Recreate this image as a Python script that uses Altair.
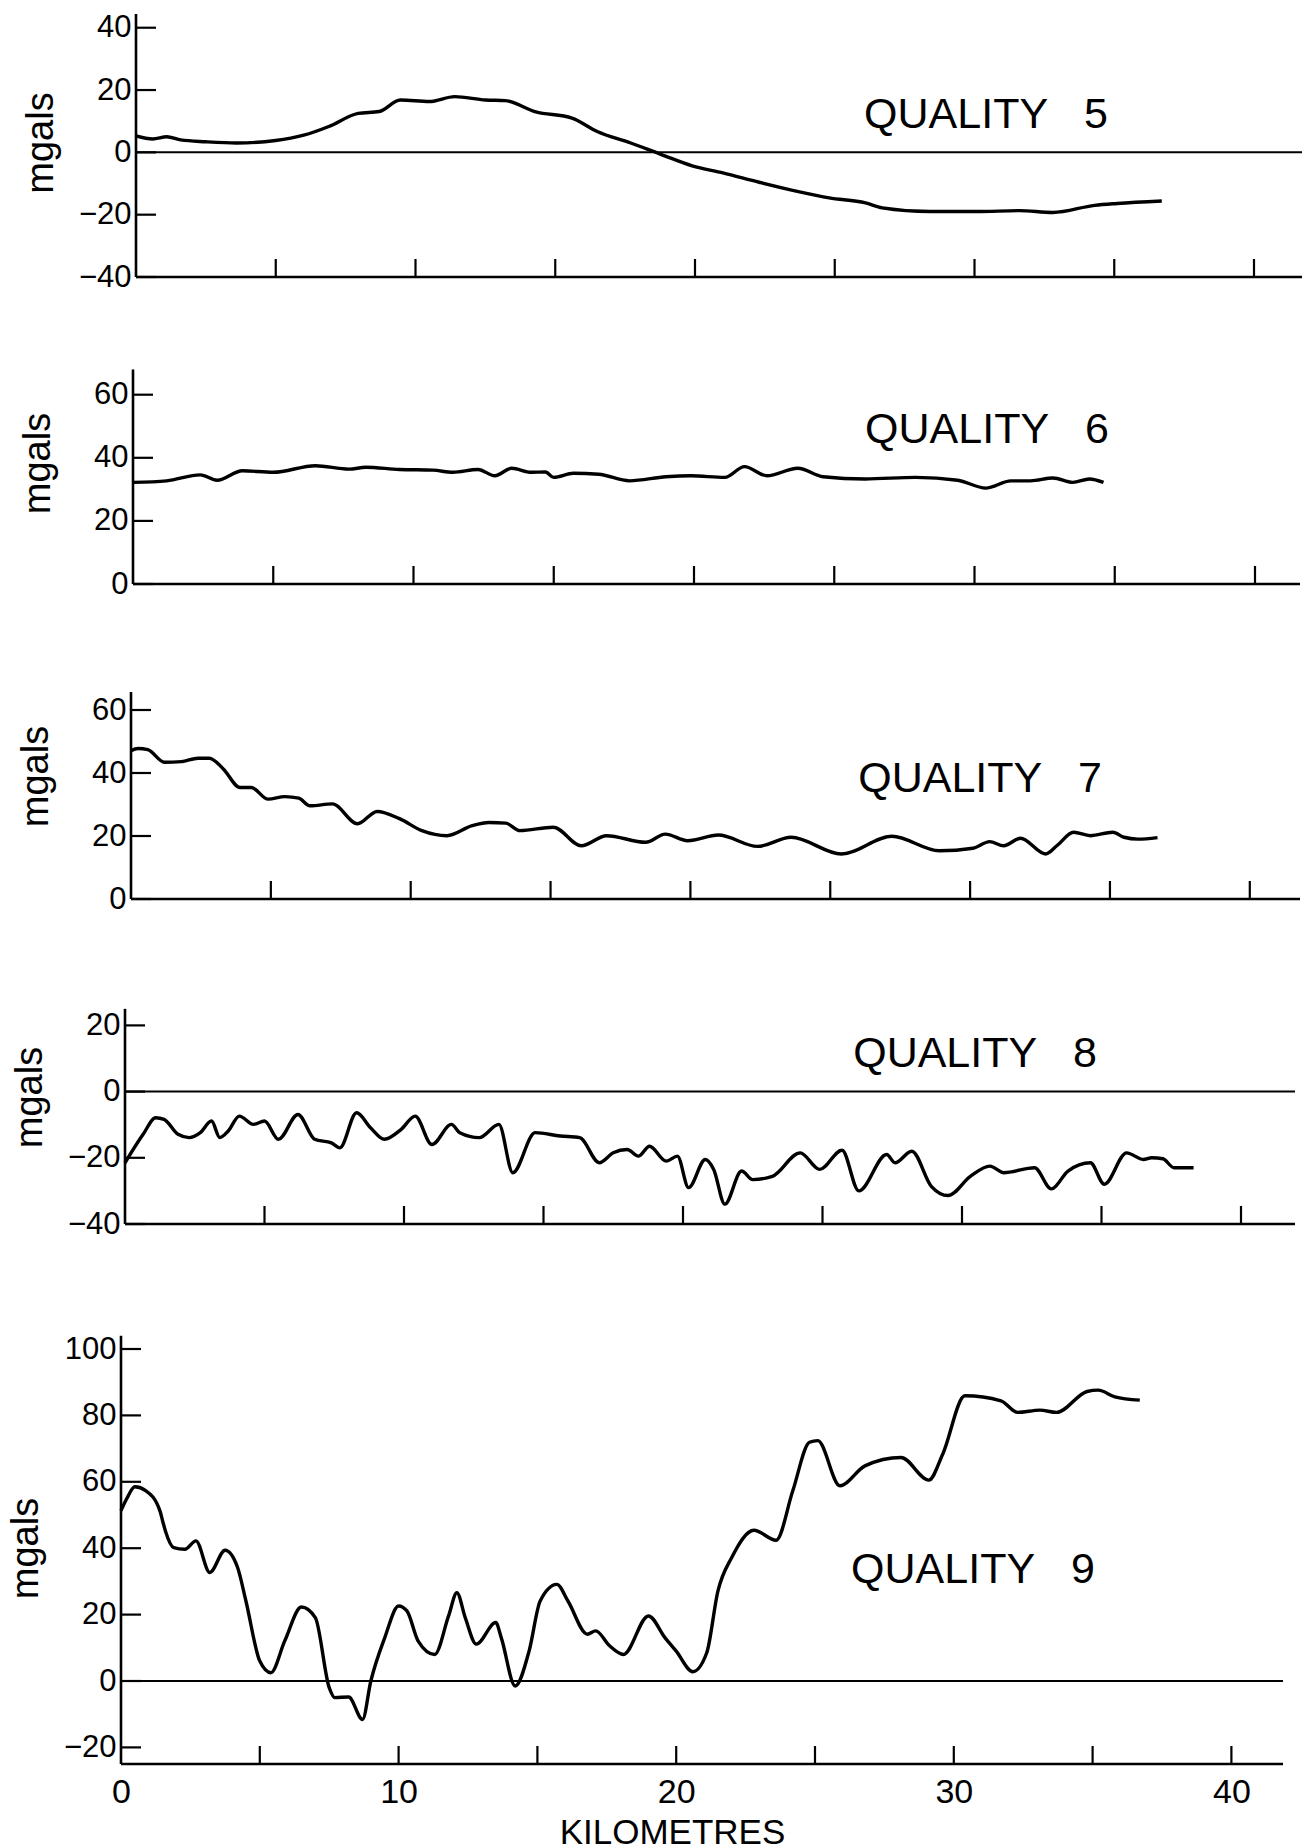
import altair as alt
import pandas as pd

FONT = "Liberation Sans"

# ---------------- data (km along profile, mgals) ----------------
q5_km = [0, 0.6, 1.1, 1.6, 2.5, 3.6, 5.0, 6.0, 6.9, 7.95, 8.7, 9.46, 10.5, 11.4, 12.5,
         13.2, 14.3, 15.6, 16.5, 17.7, 18.8, 19.9, 21.0, 22.3, 23.7, 24.8, 26.1, 26.7,
         28.4, 30.1, 31.6, 32.8, 34.3, 35.1, 36.7]
q5_mgal = [5.3, 4.3, 5.0, 4.0, 3.4, 3.0, 3.8, 5.5, 8.3, 12.5, 13.1, 16.8, 16.3, 17.9, 16.8,
           16.6, 13.0, 11.0, 6.7, 3.0, -0.7, -4.3, -6.6, -9.6, -12.6, -14.6, -16.2, -17.8,
           -19.0, -19.0, -18.7, -19.3, -17.0, -16.4, -15.6]

q6_km = [0, 1.2, 2.4, 3.0, 3.9, 5.0, 6.5, 7.7, 8.3, 9.5, 10.7, 11.4, 12.3, 12.9, 13.5,
         14.2, 14.7, 15.0, 15.7, 16.6, 17.7, 19.0, 19.9, 21.1, 21.8, 22.6, 23.7, 24.6,
         26.1, 27.9, 29.4, 30.4, 31.3, 32.0, 32.8, 33.5, 34.1, 34.6]
q6_mgal = [32.2, 32.7, 34.6, 32.9, 35.9, 35.4, 37.5, 36.4, 37.0, 36.3, 36.1, 35.4, 36.3,
           34.3, 36.7, 35.4, 35.5, 33.8, 35.1, 34.8, 32.7, 34.0, 34.3, 33.8, 37.2, 34.3,
           36.7, 34.0, 33.3, 33.8, 32.9, 30.4, 32.7, 32.7, 33.6, 32.2, 33.3, 32.2]

q7_km = [0, 0.25, 0.6, 1.2, 1.8, 2.4, 2.8, 3.3, 3.9, 4.3, 4.9, 5.5, 6.0, 6.4, 7.2, 8.1,
         8.8, 9.6, 10.4, 11.3, 12.2, 12.8, 13.4, 13.9, 15.1, 16.1, 17.0, 18.4, 19.1,
         19.9, 21.0, 22.4, 23.6, 25.4, 27.2, 28.9, 30.1, 30.7, 31.2, 31.8, 32.7, 33.1,
         33.7, 34.3, 35.1, 35.5, 36.0, 36.7]
q7_mgal = [47.1, 47.8, 47.4, 43.4, 43.6, 44.7, 44.7, 41.3, 35.4, 35.4, 31.7, 32.5, 32.0,
           29.6, 30.2, 23.9, 27.8, 25.5, 21.7, 20.1, 23.3, 24.3, 24.1, 21.7, 22.8, 16.9,
           20.1, 18.0, 20.6, 18.5, 20.3, 16.7, 19.6, 14.3, 19.9, 15.3, 16.1, 18.2, 16.9,
           19.3, 14.3, 16.9, 21.2, 20.1, 21.2, 19.6, 19.0, 19.5]

q8_km = [0, 0.65, 1.1, 1.4, 1.9, 2.3, 2.7, 3.1, 3.4, 3.7, 4.1, 4.6, 5.0, 5.5, 6.2, 6.8,
         7.4, 7.7, 8.3, 8.8, 9.3, 9.9, 10.4, 11.0, 11.7, 12.0, 12.7, 13.4, 13.9, 14.7,
         15.6, 16.3, 17.0, 17.5, 18.0, 18.4, 18.8, 19.4, 19.8, 20.2, 20.8, 21.1, 21.5,
         22.1, 22.5, 23.2, 24.2, 24.9, 25.7, 26.3, 27.3, 27.6, 28.2, 28.9, 29.5, 30.3,
         31.0, 31.5, 32.6, 33.2, 33.8, 34.6, 35.1, 35.9, 36.5, 36.8, 37.2, 37.6, 38.3]
q8_mgal = [-21.5, -12.9, -7.9, -8.4, -12.9, -13.9, -12.4, -8.9, -13.9, -11.9, -7.4, -9.9,
           -8.9, -14.4, -6.9, -14.4, -15.5, -17.0, -6.4, -10.9, -14.4, -11.4, -7.4, -16.0,
           -9.9, -12.4, -13.9, -9.9, -24.5, -12.4, -13.4, -13.9, -21.5, -18.5, -17.5,
           -19.5, -16.5, -21.0, -19.5, -29.0, -20.5, -23.5, -34.0, -24.0, -26.6, -25.6,
           -18.5, -23.5, -17.7, -30.0, -19.0, -21.5, -18.0, -28.6, -31.4, -25.6, -22.5,
           -24.5, -23.0, -29.4, -24.0, -21.5, -28.0, -18.5, -20.5, -20.0, -20.3, -23.0,
           -23.0]

q9_km = [0, 0.2, 0.5, 0.9, 1.4, 1.5, 1.6, 1.9, 2.3, 2.7, 3.2, 3.75, 4.2, 4.5, 5.0, 5.4,
         5.9, 6.5, 7.0, 7.5, 7.7, 8.2, 8.7, 9.0, 9.5, 10.0, 10.3, 10.7, 11.3, 11.8, 12.1,
         12.4, 12.8, 13.5, 13.7, 14.2, 14.7, 15.1, 15.7, 16.1, 16.8, 17.1, 17.6, 18.1,
         19.0, 19.6, 20.0, 20.6, 21.1, 21.5, 22.0, 22.8, 23.6, 24.2, 24.8, 25.1, 25.9,
         26.8, 28.1, 29.1, 29.6, 30.4, 31.7, 32.3, 33.1, 33.7, 34.8, 35.2, 35.8, 36.7]
q9_mgal = [51.3, 54.8, 58.5, 57.3, 51.3, 48.2, 45.2, 40.2, 39.7, 42.2, 32.7, 39.4, 34.2,
           24.1, 6.0, 2.5, 12.1, 22.3, 19.1, -2.0, -5.0, -4.8, -11.6, 0.0, 13.0, 22.6,
           21.1, 12.1, 8.0, 19.6, 26.6, 19.1, 11.1, 17.6, 13.0, -1.5, 9.0, 24.1, 29.1,
           24.1, 14.1, 15.1, 10.6, 8.0, 19.6, 13.0, 9.0, 2.8, 8.5, 27.0, 37.2, 45.4, 42.4,
           57.3, 71.9, 72.4, 58.8, 64.8, 67.3, 60.5, 68.3, 85.9, 84.4, 80.9, 81.6, 80.9,
           87.2, 87.6, 85.6, 84.6]

quality_numbers = ["5", "6", "7", "8", "9"]
tick_km = [5, 10, 15, 20, 25, 30, 35, 40]
x_label_km = [0, 10, 20, 30, 40]
y_ticks = [[-40, -20, 0, 20, 40], [0, 20, 40, 60], [0, 20, 40, 60],
           [-40, -20, 0, 20], [-20, 0, 20, 40, 60, 80, 100]]
series_km = [q5_km, q6_km, q7_km, q8_km, q9_km]
series_mgal = [q5_mgal, q6_mgal, q7_mgal, q8_mgal, q9_mgal]

# ---------------- layout / styling per panel ----------------
layout = [
    dict(origin=136, kx=27.95, width=1302, height=263, ymin=-40, ky=3.116, axis_top=44.4,
         zero=True, q=(26.05, 7.8), titleY=128.5),
    dict(origin=133, kx=28.05, width=1300, height=202, ymin=0, ky=3.155, axis_top=68,
         zero=False, q=(26.1, 44.8), titleY=81),
    dict(origin=131, kx=27.97, width=1300, height=210, ymin=0, ky=3.15, axis_top=65.7,
         zero=False, q=(26.0, 34.1), titleY=87),
    dict(origin=125, kx=27.9, width=1295, height=220, ymin=-40, ky=3.31, axis_top=25,
         zero=True, q=(26.1, 7.3), titleY=93),
    dict(origin=121, kx=27.76, width=1283, height=435, ymin=-25, ky=3.32, axis_top=104,
         zero=True, q=(26.3, 29.6), titleY=219),
]


def make_panel(i):
    p = layout[i]
    last = i == len(layout) - 1
    xmin = -p["origin"] / p["kx"]
    xmax = (p["width"] - p["origin"]) / p["kx"]
    ymax = p["ymin"] + p["height"] / p["ky"]
    xs = alt.Scale(domain=[xmin, xmax], nice=False, zero=False)
    ys = alt.Scale(domain=[p["ymin"], ymax], nice=False, zero=False)

    yaxis = alt.Axis(values=y_ticks[i], domain=False, ticks=False, grid=False,
                     offset=-p["origin"], labelFontSize=31, labelPadding=5,
                     labelFont=FONT, labelColor="black", title="mgals",
                     titleFontSize=38, titleFont=FONT, titleFontWeight="normal",
                     titleColor="black", titlePadding=12, titleY=p["titleY"],
                     minExtent=64, maxExtent=64)
    if last:
        xaxis = alt.Axis(values=x_label_km, domain=False, ticks=False, grid=False,
                         labelFontSize=34, labelPadding=11, labelFont=FONT,
                         labelColor="black", labelFlush=False, title="KILOMETRES",
                         titleFontSize=35, titleFont=FONT, titleFontWeight="normal",
                         titleColor="black", titlePadding=6, titleX=672)
    else:
        xaxis = None

    def X(field):
        return alt.X(field, scale=xs, axis=xaxis)

    def Y(field):
        return alt.Y(field, scale=ys, axis=yaxis)

    line_df = pd.DataFrame({"km": series_km[i], "mgal": series_mgal[i]})
    line = alt.Chart(line_df).mark_line(
        color="black", strokeWidth=3.4, interpolate="monotone"
    ).encode(x=X("km:Q"), y=Y("mgal:Q"))

    layers = [line]

    if p["zero"]:
        zdf = pd.DataFrame({"km": [0.0], "xb": [xmax], "mgal": [0.0]})
        layers.append(alt.Chart(zdf).mark_rule(color="black", strokeWidth=2).encode(
            x=X("km:Q"), x2="xb:Q", y=Y("mgal:Q")))

    bdf = pd.DataFrame({"km": [0.0], "xb": [xmax], "mgal": [float(p["ymin"])]})
    layers.append(alt.Chart(bdf).mark_rule(color="black", strokeWidth=2.6).encode(
        x=X("km:Q"), x2="xb:Q", y=Y("mgal:Q")))

    vdf = pd.DataFrame({"km": [0.0], "mgal": [float(p["ymin"])], "yb": [p["axis_top"]]})
    layers.append(alt.Chart(vdf).mark_rule(color="black", strokeWidth=2.6).encode(
        x=X("km:Q"), y=Y("mgal:Q"), y2="yb:Q"))

    xtdf = pd.DataFrame({"km": tick_km, "mgal": [float(p["ymin"])] * len(tick_km)})
    layers.append(alt.Chart(xtdf).mark_tick(
        orient="vertical", size=18, thickness=2.2, yOffset=-9, color="black", opacity=1
    ).encode(x=X("km:Q"), y=Y("mgal:Q")))

    ytdf = pd.DataFrame({"km": [0.0] * len(y_ticks[i]), "mgal": y_ticks[i]})
    layers.append(alt.Chart(ytdf).mark_tick(
        orient="horizontal", size=20, thickness=2.2, xOffset=10, color="black", opacity=1
    ).encode(x=X("km:Q"), y=Y("mgal:Q")))

    ldf = pd.DataFrame({"km": [p["q"][0]], "mgal": [p["q"][1]],
                        "qt": ["QUALITY\u00a0\u00a0\u00a0" + quality_numbers[i]]})
    layers.append(alt.Chart(ldf).mark_text(
        align="left", baseline="alphabetic", fontSize=43, font=FONT, color="black"
    ).encode(x=X("km:Q"), y=Y("mgal:Q"), text="qt:N"))

    return alt.layer(*layers).properties(width=p["width"], height=p["height"])


chart = alt.vconcat(*[make_panel(i) for i in range(5)], spacing=105, bounds="flush").properties(
    padding={"left": 0, "top": 11, "right": 0, "bottom": 0}
).configure_view(strokeWidth=0)

chart.save("out.html", embed_options={"renderer": "svg", "actions": False})
